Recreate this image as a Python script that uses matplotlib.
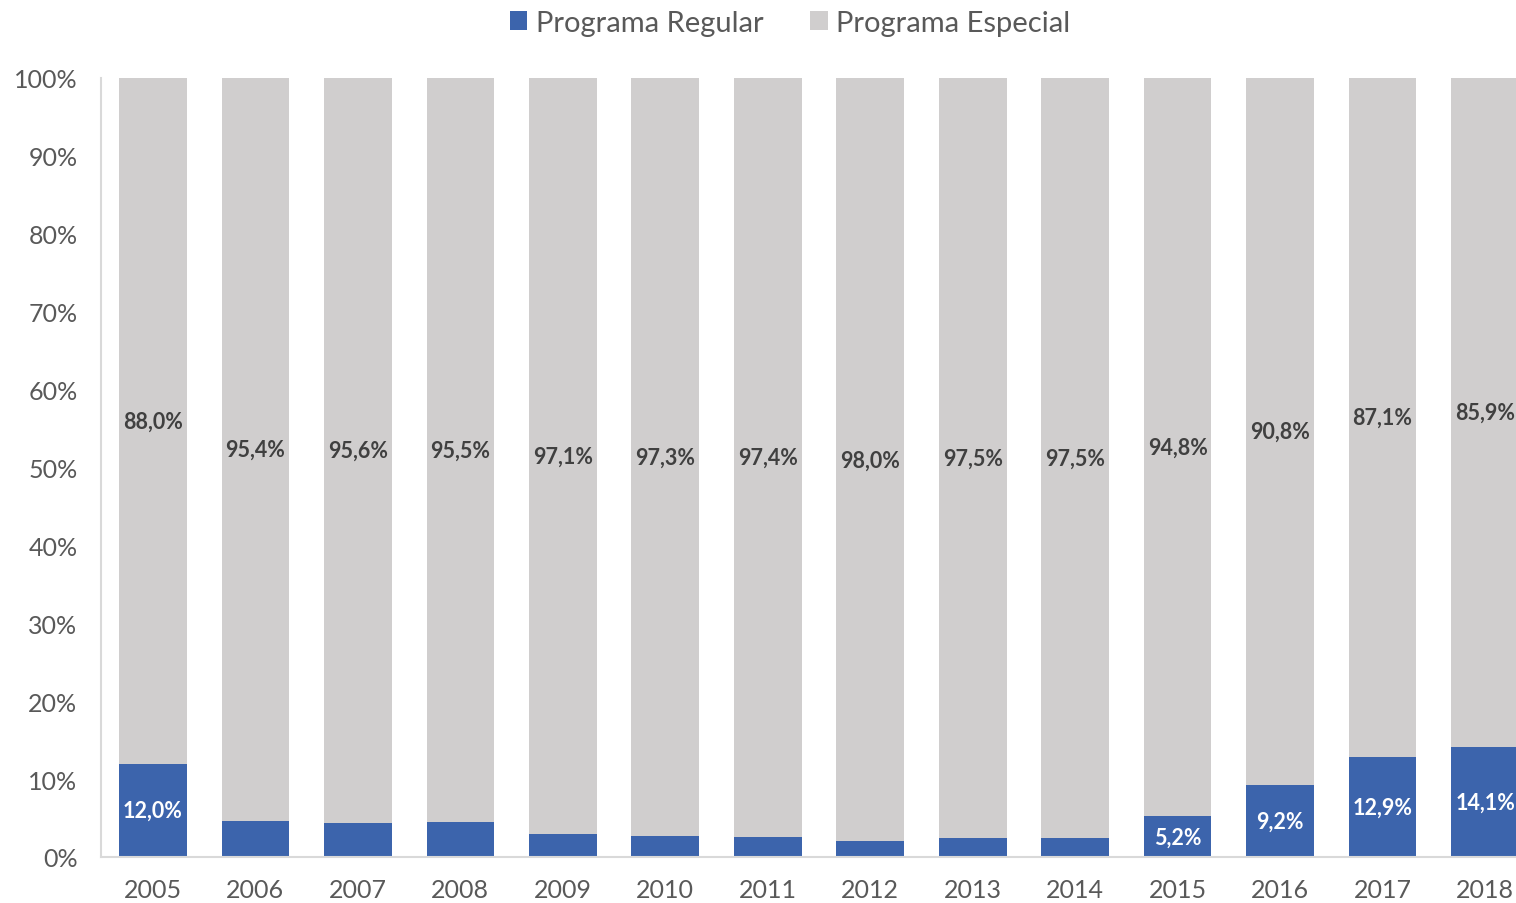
import matplotlib
matplotlib.use("Agg")
import matplotlib.pyplot as plt
import numpy as np

years = ["2005", "2006", "2007", "2008", "2009", "2010", "2011",
         "2012", "2013", "2014", "2015", "2016", "2017", "2018"]
especial = [88.0, 95.4, 95.6, 95.5, 97.1, 97.3, 97.4,
            98.0, 97.5, 97.5, 94.8, 90.8, 87.1, 85.9]
regular = [round(100 - v, 1) for v in especial]
# only these years get a label on the blue segment
regular_labeled = ["2005", "2015", "2016", "2017", "2018"]

blue = "#3C64AC"
grey = "#D0CECE"
plt.rcParams["font.family"] = ["Lato", "DejaVu Sans"]

W, H = 1516, 904
fig = plt.figure(figsize=(W / 100, H / 100), dpi=100)
# axes runs a bit past the right edge, as in the original crop
left, right = 101, 1537
bottom, top = 858, 79
ax = fig.add_axes([left / W, 1 - bottom / H, (right - left) / W, (bottom - top) / H])

x = np.arange(len(years))
bw = 0.66
b1 = ax.bar(x, regular, bw, color=blue, label="Programa Regular", zorder=2)
b2 = ax.bar(x, especial, bw, bottom=regular, color=grey, label="Programa Especial", zorder=2)

fmt = lambda v: f"{v:.1f}%".replace(".", ",")
for i, (r, e) in enumerate(zip(regular, especial)):
    ax.text(x[i], r + e / 2, fmt(e), ha="center", va="center",
            fontsize=15.5, fontweight="bold", color="#404040")
    if years[i] in regular_labeled:
        ax.text(x[i], r / 2, fmt(r), ha="center", va="center",
                fontsize=15.5, fontweight="bold", color="white")

ax.set_xlim(-0.507, len(years) - 1 + 0.507)
ax.set_ylim(0, 100)
ax.set_yticks(range(0, 101, 10))
ax.set_yticklabels([f"{v}%" for v in range(0, 101, 10)])
ax.set_xticks(x)
ax.set_xticklabels(years)
ax.tick_params(axis="both", length=0, labelsize=18, labelcolor="#595959")
ax.tick_params(axis="x", pad=15)
ax.tick_params(axis="y", pad=17)
for s in ["top", "right"]:
    ax.spines[s].set_visible(False)
ax.spines["left"].set_color("#D9D9D9")
ax.spines["bottom"].set_color("#D9D9D9")
ax.spines["left"].set_linewidth(1.5)
ax.spines["bottom"].set_linewidth(1.5)

fig.legend(handles=[b1, b2], loc="center", bbox_to_anchor=(790 / W, 1 - 24 / H),
           ncol=2, frameon=False, fontsize=21, labelcolor="#595959",
           handlelength=0.6, handleheight=0.6, handletextpad=0.3, columnspacing=1.6)

fig.savefig("out.png", dpi=100)
